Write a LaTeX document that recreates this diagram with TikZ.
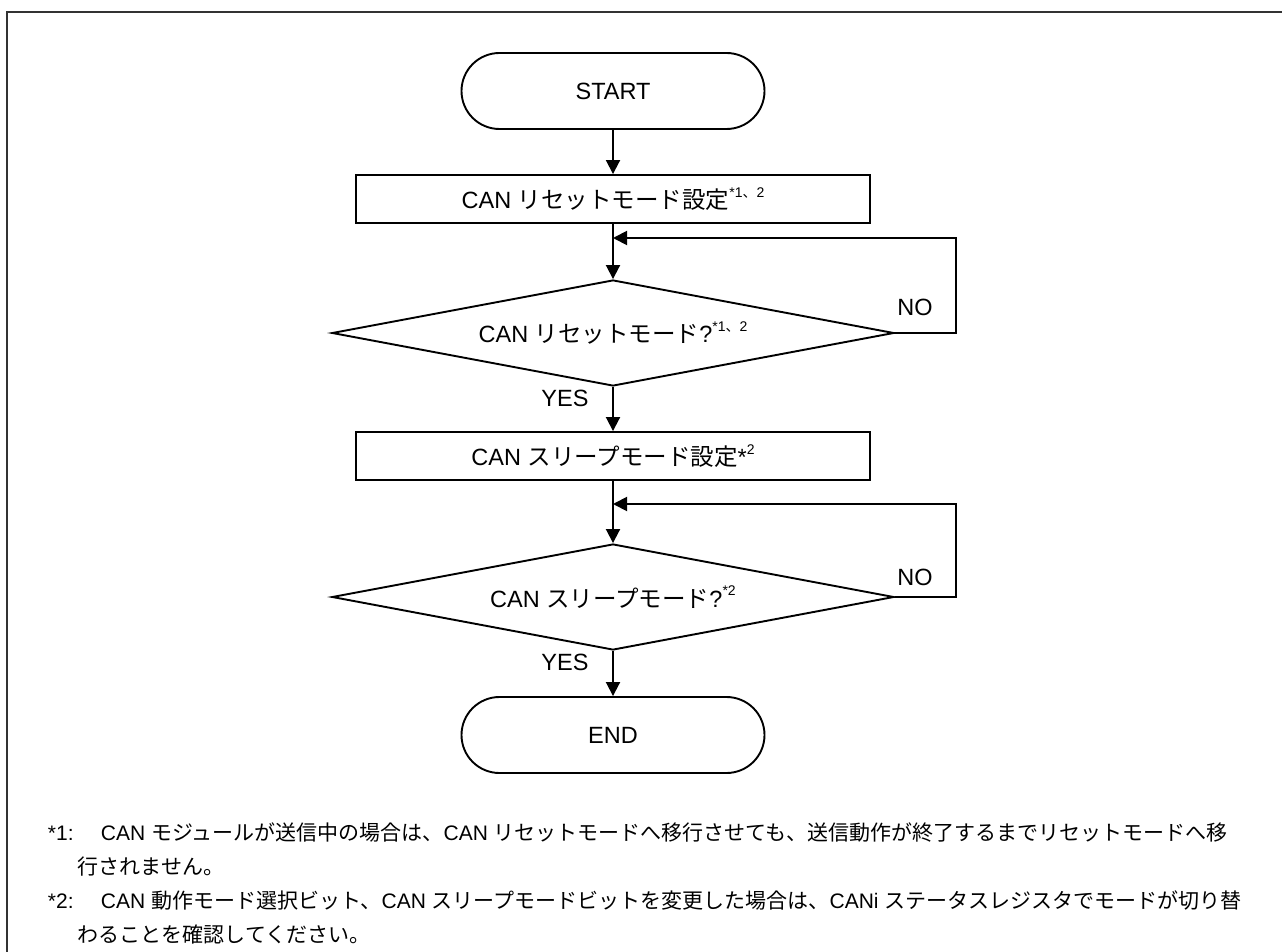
\documentclass[tikz,border=0pt]{standalone}
\usepackage{fontspec}
\setmainfont{Liberation Sans}
\newfontfamily\jp{Noto Sans CJK JP}
\usetikzlibrary{arrows.meta,shapes.geometric,shapes.misc}
\newcommand\refmark[1]{\raisebox{0.5em}{\fontsize{14}{14}\selectfont #1}}

\begin{document}
\begin{tikzpicture}[x=1pt,y=-1pt,line width=1.9pt,
  every node/.style={font=\fontsize{23.5}{26}\selectfont},
  term/.style={draw,rounded rectangle,minimum width=303pt,minimum height=76pt,inner sep=0pt},
  proc/.style={draw,rectangle,minimum width=514pt,minimum height=48pt,inner sep=0pt},
  decide/.style={draw,diamond,aspect=5.3,minimum width=562pt,minimum height=106pt,inner sep=0pt},
  flow/.style={-{Triangle[length=14pt,width=14pt]}},
  note/.style={anchor=base west,inner sep=0pt,font=\fontsize{21}{24}\selectfont}]
  \useasboundingbox (0,0) rectangle (1282,952);
  \draw[line width=1.4pt,black!80] (7,952) -- (7,12) -- (1282,12);

  % flow
  \node[term] (start) at (613,91) {START};
  \node[proc] (set1) at (613,199) {CAN {\jp リセットモード設定}\refmark{*1{\jp 、}2}};
  \node[decide] (chk1) at (613,333) {CAN {\jp リセットモード}?\refmark{*1{\jp 、}2}};
  \node[proc] (set2) at (613,456) {CAN {\jp スリープモード設定}*\refmark{2}};
  \node[decide] (chk2) at (613,597) {CAN {\jp スリープモード}?\refmark{*2}};
  \node[term] (end) at (613,735) {END};

  \coordinate (back1) at (613,238);
  \coordinate (turn1) at (956,238);
  \coordinate (back2) at (613,504);
  \coordinate (turn2) at (956,504);

  \draw[flow] (start) -- (set1);
  \draw[flow] (set1) -- (chk1);
  \draw[flow] (chk1) -- (set2);
  \draw[flow] (set2) -- (chk2);
  \draw[flow] (chk2) -- (end);
  \draw[flow] (chk1.east) -| (turn1) -- (back1);
  \draw[flow] (chk2.east) -| (turn2) -- (back2);

  \node (no1) at (915,307) {NO};
  \node (yes1) at (565,398) {YES};
  \node (no2) at (915,577) {NO};
  \node (yes2) at (565,662) {YES};

  % notes
  \node[note] (mark1) at (47,840) {*1:};
  \node[note] (note1a) at (100,840) {CAN {\jp モジュールが送信中の場合は、}CAN {\jp リセットモードへ移行させても、送信動作が終了するまでリセットモードへ移}};
  \node[note] (note1b) at (77,874) {{\jp 行されません。}};
  \node[note] (mark2) at (47,908) {*2:};
  \node[note] (note2a) at (100,908) {CAN {\jp 動作モード選択ビット、}CAN {\jp スリープモードビットを変更した場合は、}CANi {\jp ステータスレジスタでモードが切り替}};
  \node[note] (note2b) at (77,942) {{\jp わることを確認してください。}};
\end{tikzpicture}
\end{document}
